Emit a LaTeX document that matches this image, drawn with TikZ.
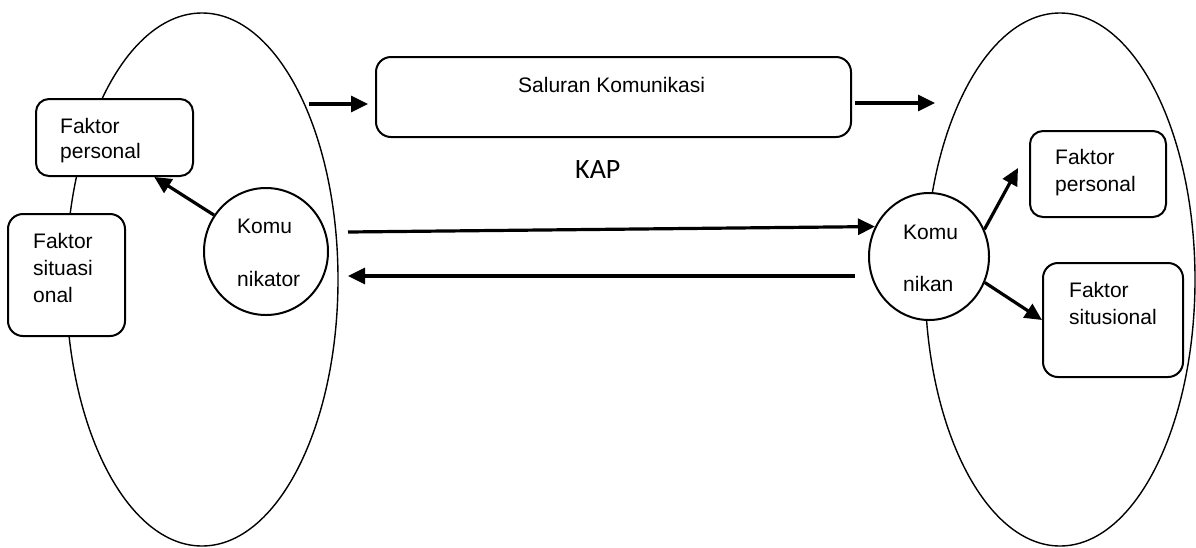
\documentclass[tikz,border=0pt]{standalone}
\usepackage{fontspec}
\setmainfont{Liberation Sans}
\newfontfamily\kapfont{Carlito}
\usetikzlibrary{shapes.geometric,arrows.meta,calc}
\begin{document}
\begin{tikzpicture}[x=1pt,y=-1pt,
  big/.style={draw, ellipse, line width=1.4pt, inner sep=0pt},
  rbox/.style={draw, fill=white, rectangle, rounded corners=13pt, line width=2pt, inner sep=0pt},
  person/.style={draw, fill=white, ellipse, line width=2pt, inner sep=0pt},
  lbl/.style={anchor=base west, inner sep=0pt, font=\fontsize{21}{25}\selectfont},
  arr/.style={line width=3.2pt, -{Triangle[length=17pt,width=16pt]}}]
\useasboundingbox (0,0) rectangle (1196,547);

% big ellipses
\node[big, minimum width=272, minimum height=533] (le) at (202,279.5) {};
\node[big, minimum width=270, minimum height=533] (re) at (1060,279.5) {};

% boxes
\node[rbox, minimum width=157, minimum height=77] (fp1) at (114.5,137.5) {};
\node[rbox, minimum width=117, minimum height=122, rounded corners=15pt] (fs1) at (66.5,275) {};
\node[rbox, minimum width=475, minimum height=80, rounded corners=15pt] (sal) at (613.5,97) {};
\node[rbox, minimum width=136, minimum height=86] (fp2) at (1098,174) {};
\node[rbox, minimum width=140, minimum height=114, rounded corners=15pt] (fs2) at (1113,320) {};

% persons
\node[person, minimum width=124, minimum height=127] (kom) at (266,251.5) {};
\node[person, minimum width=120, minimum height=127] (kn) at (929,256.5) {};

% texts
\node[lbl] (t1a) at (60,133) {Faktor};
\node[lbl] (t1b) at (60,158) {personal};
\node[lbl] (t2a) at (33,248) {Faktor};
\node[lbl] (t2b) at (33,275) {situasi};
\node[lbl] (t2c) at (33,302) {onal};
\node[lbl] (t3a) at (237,233) {Komu};
\node[lbl] (t3b) at (237,286) {nikator};
\node[lbl] (t4) at (518,92) {Saluran Komunikasi};
\node[anchor=base west, inner sep=0pt, font=\kapfont\fontsize{28}{30}\selectfont] (kap) at (575,178) {KAP};
\node[lbl] (t5a) at (1055,164) {Faktor};
\node[lbl] (t5b) at (1055,191) {personal};
\node[lbl] (t6a) at (903,239) {Komu};
\node[lbl] (t6b) at (903,291) {nikan};
\node[lbl] (t7a) at (1069,297) {Faktor};
\node[lbl] (t7b) at (1069,324) {situsional};

% arrows
\coordinate (a1s) at (309,104);
\draw[arr, shorten >=7pt] (a1s) -- (a1s -| sal.west);
\coordinate (a2e) at (935,103);
\draw[arr] ($(sal.east |- a2e)+(3,0)$) -- (a2e);
\draw[arr] (kom.145) -- ($(fp1.south west)!0.75!(fp1.south east)$);
\coordinate (m1s) at (348,232);
\draw[arr] (m1s) -- (kn.151);
\coordinate (m2e) at (348,276);
\draw[arr] ($(kn.west |- m2e)+(-13,0)$) -- (m2e);
\coordinate (r1e) at (1018,168);
\draw[arr] (kn.26) -- (r1e);
\draw[arr] (kn.-25) -- (fs2.west);
\end{tikzpicture}
\end{document}
